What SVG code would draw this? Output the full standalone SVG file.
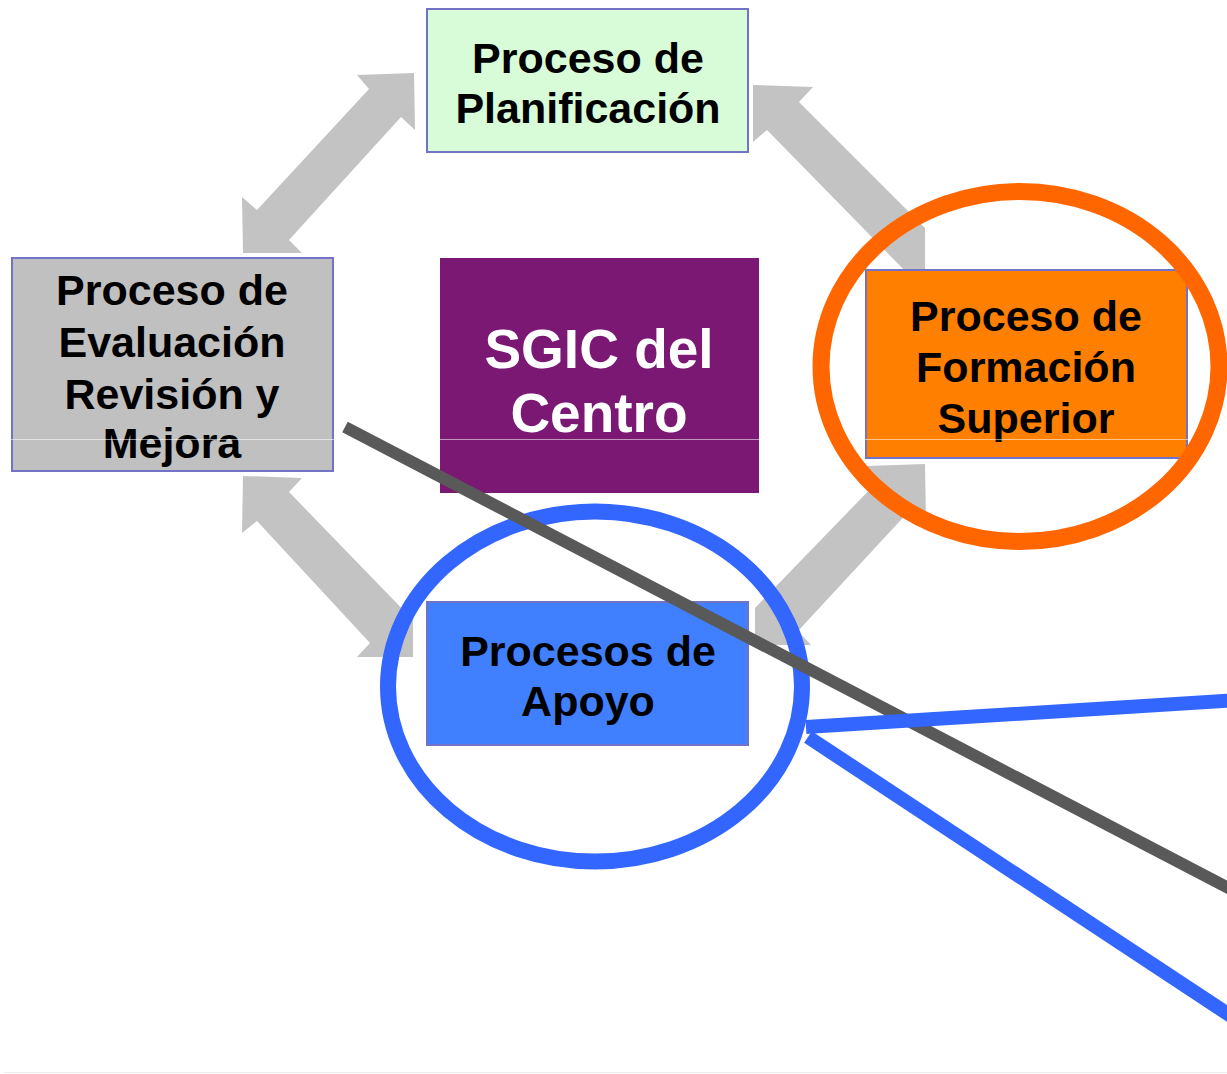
<svg xmlns="http://www.w3.org/2000/svg" width="1227" height="1074" viewBox="0 0 1227 1074">
  <style>
    .arrow { fill: #c3c3c3; }
    .box { stroke: #7272c6; stroke-width: 2; }
    .lbl { font-family: "Liberation Sans", Arial, sans-serif; font-weight: bold; font-size: 43px; fill: #000; text-anchor: middle; }
    .big { font-family: "Liberation Sans", Arial, sans-serif; font-weight: bold; font-size: 55px; fill: #fff; text-anchor: middle; }
    .ring { fill: none; }
  </style>
  <rect x="0" y="0" width="1227" height="1074" fill="#ffffff"/>
  <g id="cycle-arrows">
    <polygon class="arrow" points="414,73 415,130 401,117 289,240 302,253 243,253 242,197 257,210 369,89 357,75"/>
    <polygon class="arrow" points="753,85 813,87 799,102 925,228 925,275 909,275 767,130 753,142"/>
    <polygon class="arrow" points="243,476 302,478 289,492 413,620 413,657 357,657 370,643 257,521 242,533"/>
    <polygon class="arrow" points="925,464 866,466 879,480 755,608 755,645 811,645 798,631 911,509 926,521"/>
  </g>
  <g id="node-planificacion">
    <rect class="box" x="427" y="9" width="321" height="143" fill="#d7fcd7"/>
    <text class="lbl" x="588" y="73">Proceso de</text>
    <text class="lbl" x="588" y="123">Planificación</text>
  </g>
  <g id="node-evaluacion">
    <rect class="box" x="12" y="258" width="321" height="213" fill="#c0c0c0"/>
    <text class="lbl" x="172" y="305">Proceso de</text>
    <text class="lbl" x="172" y="357">Evaluación</text>
    <text class="lbl" x="172" y="409">Revisión y</text>
    <text class="lbl" x="172" y="458">Mejora</text>
  </g>
  <g id="node-sgic">
    <rect x="440" y="258" width="319" height="235" fill="#7a1874"/>
    <text class="big" x="599" y="368">SGIC del</text>
    <text class="big" x="599" y="432">Centro</text>
  </g>
  <g id="node-formacion">
    <rect class="box" x="866" y="270" width="321" height="188" fill="#ff7f00"/>
    <text class="lbl" x="1026" y="331">Proceso de</text>
    <text class="lbl" x="1026" y="382">Formación</text>
    <text class="lbl" x="1026" y="433">Superior</text>
  </g>
  <g id="node-apoyo">
    <rect class="box" x="427" y="602" width="321" height="143" fill="#4080ff" stroke="#3a5fd0"/>
    <text class="lbl" x="588" y="666">Procesos de</text>
    <text class="lbl" x="588" y="716">Apoyo</text>
  </g>
  <line x1="0" y1="439.5" x2="1227" y2="439.5" stroke="#ffffff" stroke-opacity="0.55" stroke-width="1"/>
  <line x1="4" y1="1072.5" x2="1227" y2="1072.5" stroke="#ececec" stroke-width="1"/>
  <g id="highlights">
    <ellipse class="ring" cx="1020" cy="366.5" rx="199" ry="175" stroke="#ff6600" stroke-width="17"/>
    <ellipse class="ring" cx="595" cy="686.5" rx="207" ry="175" stroke="#3366ff" stroke-width="16"/>
  </g>
  <g id="connectors">
    <line x1="345" y1="427" x2="1240" y2="894" stroke="#595959" stroke-width="12"/>
    <line x1="806" y1="727" x2="1240" y2="700" stroke="#3366ff" stroke-width="14"/>
    <line x1="808" y1="737" x2="1240" y2="1022" stroke="#3366ff" stroke-width="14"/>
  </g>
</svg>
